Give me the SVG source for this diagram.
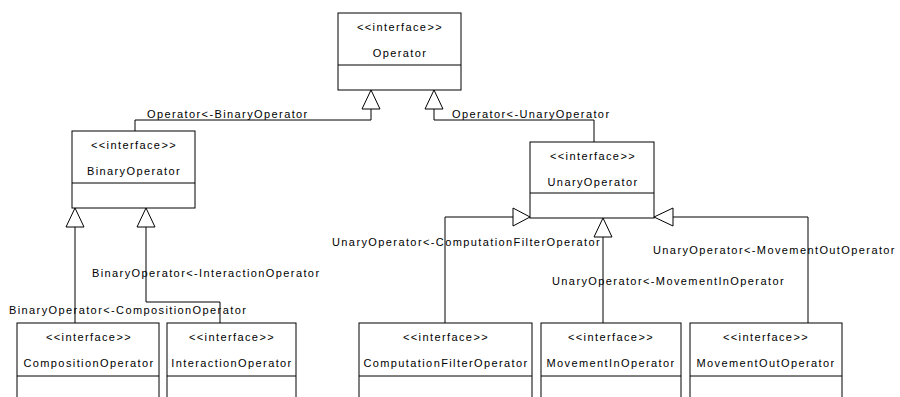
<svg xmlns="http://www.w3.org/2000/svg" width="900" height="397" viewBox="0 0 900 397">
<style>
.box{fill:#fff;stroke:#000;stroke-width:1}
.ln{fill:none;stroke:#000;stroke-width:1}
.tri{fill:#fff;stroke:#000;stroke-width:1}
text{font-family:"Liberation Sans",Arial,sans-serif;font-size:11px;letter-spacing:1.4px;fill:#000}
.c{text-anchor:middle}
</style>
<rect width="900" height="397" fill="#fff"/>
<g id="connectors">
<polyline class="ln" points="371,109 371,120 135,120 135,131"/>
<polygon class="tri" points="371,90 362,109 380,109"/>
<text x="147" y="118">Operator&lt;-BinaryOperator</text>
<polyline class="ln" points="434,109 434,120 594,120 594,142"/>
<polygon class="tri" points="434,90 425,109 443,109"/>
<text x="452" y="118">Operator&lt;-UnaryOperator</text>
<polyline class="ln" points="75,227 75,323"/>
<polygon class="tri" points="75,208 66,227 84,227"/>
<text x="9" y="314">BinaryOperator&lt;-CompositionOperator</text>
<polyline class="ln" points="146,227 146,302 220,302 220,323"/>
<polygon class="tri" points="146,208 137,227 155,227"/>
<text x="92" y="277">BinaryOperator&lt;-InteractionOperator</text>
<polyline class="ln" points="513,217 445,217 445,323"/>
<polygon class="tri" points="530,217 513,208 513,226"/>
<text x="332" y="246">UnaryOperator&lt;-ComputationFilterOperator</text>
<polyline class="ln" points="603,237 603,323"/>
<polygon class="tri" points="603,218 594,237 612,237"/>
<text x="552" y="285">UnaryOperator&lt;-MovementInOperator</text>
<polyline class="ln" points="673,217 808,217 808,323"/>
<polygon class="tri" points="654,217 673,208 673,226"/>
<text x="653" y="254">UnaryOperator&lt;-MovementOutOperator</text>
</g>
<g id="Operator">
<rect class="box" x="338" y="13" width="123" height="77"/>
<line class="ln" x1="338" y1="65" x2="461" y2="65"/>
<text class="c" x="400" y="31">&lt;&lt;interface&gt;&gt;</text>
<text class="c" x="400" y="57">Operator</text>
</g>
<g id="BinaryOperator">
<rect class="box" x="72" y="131" width="123" height="77"/>
<line class="ln" x1="72" y1="183" x2="195" y2="183"/>
<text class="c" x="134" y="149">&lt;&lt;interface&gt;&gt;</text>
<text class="c" x="134" y="175">BinaryOperator</text>
</g>
<g id="UnaryOperator">
<rect class="box" x="530" y="142" width="124" height="76"/>
<line class="ln" x1="530" y1="193" x2="654" y2="193"/>
<text class="c" x="593" y="160">&lt;&lt;interface&gt;&gt;</text>
<text class="c" x="593" y="186">UnaryOperator</text>
</g>
<g id="CompositionOperator">
<rect class="box" x="17" y="323" width="142" height="90"/>
<line class="ln" x1="17" y1="376" x2="159" y2="376"/>
<text class="c" x="89" y="341">&lt;&lt;interface&gt;&gt;</text>
<text class="c" x="89" y="367">CompositionOperator</text>
</g>
<g id="InteractionOperator">
<rect class="box" x="167" y="323" width="129" height="90"/>
<line class="ln" x1="167" y1="376" x2="296" y2="376"/>
<text class="c" x="232" y="341">&lt;&lt;interface&gt;&gt;</text>
<text class="c" x="232" y="367">InteractionOperator</text>
</g>
<g id="ComputationFilterOperator">
<rect class="box" x="359" y="323" width="173" height="90"/>
<line class="ln" x1="359" y1="376" x2="532" y2="376"/>
<text class="c" x="446" y="341">&lt;&lt;interface&gt;&gt;</text>
<text class="c" x="446" y="367">ComputationFilterOperator</text>
</g>
<g id="MovementInOperator">
<rect class="box" x="541" y="323" width="140" height="90"/>
<line class="ln" x1="541" y1="376" x2="681" y2="376"/>
<text class="c" x="611" y="341">&lt;&lt;interface&gt;&gt;</text>
<text class="c" x="611" y="367">MovementInOperator</text>
</g>
<g id="MovementOutOperator">
<rect class="box" x="690" y="323" width="152" height="90"/>
<line class="ln" x1="690" y1="376" x2="842" y2="376"/>
<text class="c" x="766" y="341">&lt;&lt;interface&gt;&gt;</text>
<text class="c" x="766" y="367">MovementOutOperator</text>
</g>
</svg>
